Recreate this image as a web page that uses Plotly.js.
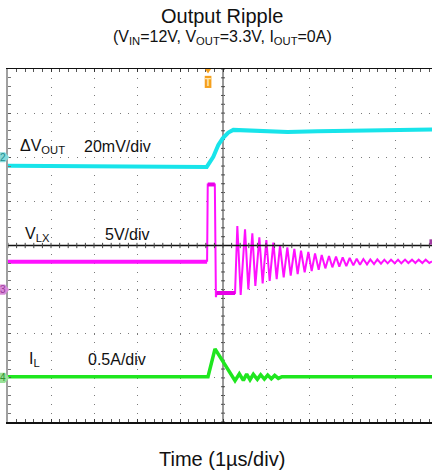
<!DOCTYPE html>
<html>
<head>
<meta charset="utf-8">
<script src="https://cdn.plot.ly/plotly-3.0.1.min.js"></script>
<style>html,body{margin:0;padding:0;background:#fff;}#chart{width:432px;height:472px;}</style>
</head>
<body>
<div id="chart"></div>
<script>
// Time axis in divisions (1 µs/div), vertical values in screen divisions
// ΔVOUT (CH2, 20 mV/div)
const voutT = [-5, -2.5, -0.379, -0.226, -0.109, -0.007, 0.123, 0.24, 0.8, 1.5, 2.2, 3.2, 4.2, 4.86];
const voutV = [1.81, 1.80, 1.78, 2.01, 2.28, 2.43, 2.56, 2.62, 2.60, 2.57, 2.59, 2.60, 2.62, 2.63];

// VLX (CH3, 5 V/div)
const vlxT = [-5, -0.37, -0.355, -0.19, -0.165, -0.15, 0.28,
  0.333, 0.411, 0.512, 0.589, 0.682, 0.752, 0.845, 0.922, 1.008, 1.085,
  1.171, 1.248, 1.326, 1.411, 1.496, 1.574, 1.659, 1.736, 1.814, 1.899,
  1.984, 2.062, 2.140, 2.225, 2.295, 2.380, 2.465, 2.543, 2.628, 2.705,
  2.783, 2.868, 2.946, 3.031, 3.109, 3.186, 3.264, 3.349, 3.426, 3.512,
  3.589, 3.674, 3.752, 3.829, 3.907, 3.992, 4.070, 4.147, 4.233, 4.310,
  4.395, 4.473, 4.550, 4.636, 4.713, 4.798, 4.86];
const vlxV = [-0.367, -0.367, 1.383, 1.383, -1.17, -1.077, -1.077,
  0.442, -1.122, 0.367, -0.994, 0.276, -0.918, 0.185, -0.858, 0.125, -0.805,
  0.064, -0.760, 0.004, -0.722, -0.041, -0.684, -0.079, -0.646, -0.117, -0.608,
  -0.147, -0.578, -0.178, -0.548, -0.215, -0.518, -0.238, -0.495, -0.253, -0.480,
  -0.268, -0.465, -0.283, -0.450, -0.299, -0.435, -0.306, -0.427, -0.314, -0.420,
  -0.314, -0.412, -0.321, -0.404, -0.321, -0.404, -0.321, -0.404, -0.321, -0.397,
  -0.321, -0.397, -0.321, -0.397, -0.321, -0.397, -0.36];

// IL (CH4, 0.5 A/div)
const ilT = [-5, -0.349, -0.186, 0.279, 0.380, 0.473, 0.550, 0.628, 0.705, 0.798,
  0.876, 0.961, 1.039, 1.124, 1.202, 1.287, 1.37, 4.86];
const ilV = [-2.975, -2.975, -2.342, -3.066, -2.907, -3.057, -2.914, -3.043, -2.921, -3.034,
  -2.929, -3.027, -2.937, -3.020, -2.944, -3.012, -2.975, -2.975];

const FONT = 'Liberation Sans, Arial, Helvetica, sans-serif';
const CYAN = '#18e4ea', MAG = '#ff10ff', GREEN = '#1fe61f';

const traces = [
  {x: voutT, y: voutV, mode: 'lines', line: {color: CYAN, width: 4}, hoverinfo: 'skip'},
  {x: vlxT.slice(0, 2), y: vlxV.slice(0, 2), mode: 'lines', line: {color: MAG, width: 4}, hoverinfo: 'skip'},
  {x: vlxT.slice(1), y: vlxV.slice(1), mode: 'lines', line: {color: MAG, width: 2}, hoverinfo: 'skip'},
  {x: vlxT.slice(2, 4), y: vlxV.slice(2, 4), mode: 'lines', line: {color: '#e800e8', width: 4}, hoverinfo: 'skip'},
  {x: vlxT.slice(5, 7), y: vlxV.slice(5, 7), mode: 'lines', line: {color: '#e800e8', width: 4}, hoverinfo: 'skip'},
  {x: ilT, y: ilV, mode: 'lines', line: {color: GREEN, width: 3.5}, hoverinfo: 'skip'}
];

const shapes = [];
// center crosshair
shapes.push({type: 'line', xref: 'x', yref: 'y', x0: 0, x1: 0, y0: -4, y1: 4, layer: 'below', line: {color: '#9a9a9a', width: 2}});
shapes.push({type: 'line', xref: 'x', yref: 'y', x0: -5, x1: 4.86, y0: 0, y1: 0, layer: 'above', line: {color: '#111', width: 1.5}});
for (let k = -20; k <= 20; k++) {
  shapes.push({type: 'line', xref: 'x', yref: 'y', x0: -0.045, x1: 0.045, y0: k * 0.2, y1: k * 0.2, layer: 'below', line: {color: '#444', width: 1}});
}
for (let k = -25; k <= 24; k++) {
  shapes.push({type: 'line', xref: 'x', yref: 'y', x0: k * 0.2, x1: k * 0.2, y0: -0.06, y1: 0.06, layer: 'above', line: {color: '#444', width: 1}});
}
// trigger marker
shapes.push({type: 'path', xref: 'x', yref: 'y', path: 'M -0.42,4 L -0.28,4 L -0.349,3.9 Z', fillcolor: '#f5a01e', line: {width: 0}});
shapes.push({type: 'rect', xref: 'x', yref: 'y', x0: -0.425, x1: -0.27, y0: 3.57, y1: 3.845, fillcolor: '#f5a01e', line: {width: 0}});
// channel tags
function tag(v, fill) {
  const h = 0.115;
  shapes.push({type: 'path', xref: 'paper', yref: 'y',
    path: `M -0.04,${v + h} L -0.007,${v + h} L 0.003,${v} L -0.007,${v - h} L -0.04,${v - h} Z`,
    fillcolor: fill, line: {width: 0}});
}
tag(2, '#86dada');
tag(-1, '#d88ad8');
tag(-3, '#98e298');
// right edge ch3 marker
shapes.push({type: 'rect', xref: 'paper', yref: 'y', x0: 0.994, x1: 1.0, y0: 0.02, y1: 0.14, fillcolor: '#a03aa0', line: {width: 0}});

const ann = [];
function txt(x, y, text, size, opts) {
  ann.push(Object.assign({x: x, y: y, xref: 'x', yref: 'y', text: text, showarrow: false,
    xanchor: 'left', yanchor: 'middle', font: {family: FONT, size: size, color: '#111'}}, opts || {}));
}
txt(-4.774, 2.25, 'ΔV<sub>OUT</sub>', 16);
txt(-3.279, 2.25, '20mV/div', 16);
txt(-4.651, 0.24, 'V<sub>LX</sub>', 16);
txt(-2.791, 0.24, '5V/div', 16);
txt(-4.55, -2.58, 'I<sub>L</sub>', 16);
txt(-3.186, -2.58, '0.5A/div', 16);
// trigger T
txt(-0.348, 3.70, '<b>T</b>', 10, {xanchor: 'center', font: {family: FONT, size: 10, color: '#ffe6b0'}});
// tag numbers
txt(-0.011, 2, '2', 10, {xref: 'paper', xanchor: 'center', font: {family: FONT, size: 10, color: '#1f8f8f'}});
txt(-0.011, -1, '3', 10, {xref: 'paper', xanchor: 'center', font: {family: FONT, size: 10, color: '#9a3a9a'}});
txt(-0.011, -3, '4', 10, {xref: 'paper', xanchor: 'center', font: {family: FONT, size: 10, color: '#2f8f2f'}});
// titles
ann.push({xref: 'paper', yref: 'paper', x: 0.505, y: 1.150, text: 'Output Ripple', showarrow: false,
  xanchor: 'center', yanchor: 'middle', font: {family: FONT, size: 20, color: '#111'}});
ann.push({xref: 'paper', yref: 'paper', x: 0.505, y: 1.088, text: '(V<sub>IN</sub>=12V, V<sub>OUT</sub>=3.3V, I<sub>OUT</sub>=0A)', showarrow: false,
  xanchor: 'center', yanchor: 'middle', font: {family: FONT, size: 16, color: '#111'}});
ann.push({xref: 'paper', yref: 'paper', x: 0.505, y: -0.105, text: 'Time (1µs/div)', showarrow: false,
  xanchor: 'center', yanchor: 'middle', font: {family: FONT, size: 20, color: '#111'}});

const layout = {
  width: 432, height: 472,
  margin: {l: 8, r: 0, t: 69, b: 50, pad: 0},
  paper_bgcolor: '#fff', plot_bgcolor: '#fff',
  showlegend: false,
  xaxis: {range: [-5, 4.86], tick0: 0, dtick: 1, showticklabels: false, zeroline: false,
    showgrid: true, gridcolor: '#7a7a7a', gridwidth: 1, griddash: '1px,7.82px',
    showline: true, linecolor: '#111', linewidth: 1.5, mirror: 'allticks',
    ticks: 'inside', ticklen: 3, tickcolor: '#333', tickwidth: 1,
    minor: {dtick: 0.2, tick0: 0, ticks: 'inside', ticklen: 3, tickcolor: '#555', tickwidth: 1, showgrid: false},
    fixedrange: true},
  yaxis: {range: [-4, 4], tick0: 0, dtick: 1, showticklabels: false, zeroline: false,
    showgrid: true, gridcolor: '#7a7a7a', gridwidth: 1, griddash: '1px,7.6px',
    showline: true, linecolor: '#a0a0a0', linewidth: 2, mirror: false,
    ticks: 'inside', ticklen: 3, tickcolor: '#555', tickwidth: 1,
    minor: {dtick: 0.2, tick0: 0, ticks: 'inside', ticklen: 3, tickcolor: '#777', tickwidth: 1, showgrid: false},
    fixedrange: true},
  shapes: shapes,
  annotations: ann
};

Plotly.newPlot('chart', traces, layout, {displayModeBar: false, staticPlot: true});
</script>
</body>
</html>
